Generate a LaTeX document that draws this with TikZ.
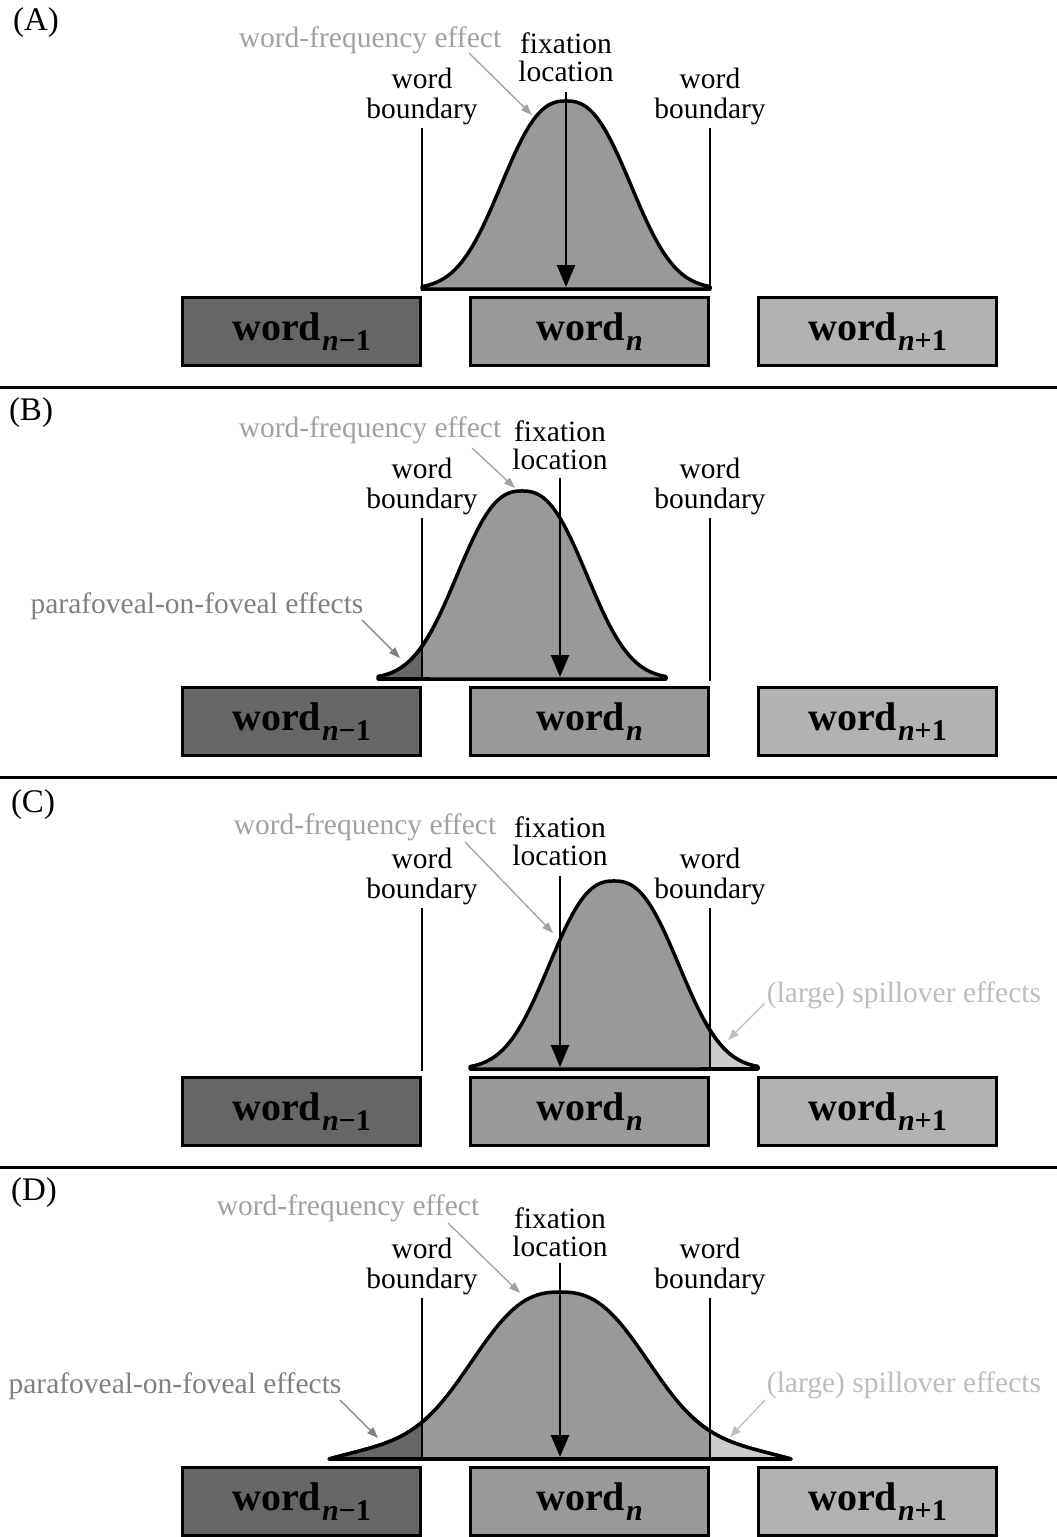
\documentclass[tikz,border=0pt]{standalone}
\usepackage{fontspec}
\setmainfont{Liberation Serif}
\usepackage{tikz}
\usetikzlibrary{arrows.meta}

\definecolor{prevgray}{gray}{0.4}
\definecolor{curgray}{gray}{0.6}
\definecolor{nextgray}{gray}{0.7}
\definecolor{spillfill}{gray}{0.8}
\definecolor{freqgray}{gray}{0.63}
\definecolor{paragray}{gray}{0.5}
\definecolor{spillgray}{gray}{0.74}

\newcommand{\wordsub}[1]{word\kern1pt\raisebox{-10pt}{\fontsize{30}{30}\selectfont\textit{n}#1}}

\begin{document}
\begin{tikzpicture}[
    x=1pt, y=-1pt,
    wordbox/.style={rectangle, draw=black, line width=3.5pt, minimum width=238pt, minimum height=68pt, inner sep=0pt, font=\fontsize{40}{40}\selectfont\bfseries},
    wprev/.style={wordbox, fill=prevgray},
    wcur/.style={wordbox, fill=curgray},
    wnext/.style={wordbox, fill=nextgray},
    lbl/.style={inner sep=0pt, align=center, font=\fontsize{29.5}{30}\selectfont},
    freq/.style={lbl, text=freqgray},
    para/.style={lbl, text=paragray},
    spill/.style={lbl, text=spillgray},
    tag/.style={inner sep=0pt, font=\fontsize{33}{33}\selectfont},
    bound/.style={line width=2.4pt, black},
    bell/.style={line width=3.5pt, black, line join=round, fill=curgray},
    fixarrow/.style={line width=2.4pt, -{Triangle[width=18pt,length=22pt]}},
    hint/.style={line width=1.3pt, -{Triangle[width=8pt,length=11pt]}},
    sep/.style={line width=3pt, black},
    declare function={
        bellA(\d)=exp(-((abs(\d)+0.01)/80)^2.5);
        bellD(\d)=0.8*exp(-((abs(\d)+0.01)/105)^2.6)+0.2*exp(-(\d/190)^2)*(1-(abs(\d)/231)^8);
    }
]
    \useasboundingbox (0,0) rectangle (1057,1537);

    % --- Panel (A): fixation in the middle of word n
    \node[tag] (tagA) at (36,23) {(A)};
    \draw[bell] (422,289) -- plot[domain=-144:144, samples=97] ({566+\x},{289-188*bellA(\x)}) -- (710,289) -- cycle;
    \draw[bound] (422,128) -- (422,291);
    \draw[bound] (710,128) -- (710,291);

    \node[freq] (freqA) at (370,40) {word-frequency effect};
    \node[lbl]  (fixA)  at (566,57) {fixation\\[-2pt]location};
    \node[lbl]  (lbA)   at (422,96) {word\\boundary};
    \node[lbl]  (rbA)   at (710,96) {word\\boundary};

    \coordinate (fixA-top) at (566,92);
    \coordinate (fixA-bot) at (566,287);
    \draw[fixarrow] (fixA-top) -- (fixA-bot);
    \coordinate (freqA-s) at (469,53);
    \coordinate (freqA-t) at (532,115);
    \draw[hint, freqgray] (freqA-s) -- (freqA-t);

    \node[wprev] (prevA) at (301.5,331.5) {\wordsub{−1}};
    \node[wcur]  (curA)  at (589.5,331.5) {\wordsub{}};
    \node[wnext] (nextA) at (877.5,331.5) {\wordsub{+1}};

    \draw[sep] (0,387) -- (1057,387);

    % --- Panel (B): curve shifted to the left
    \begin{scope}[yshift=-390pt]
    \node[tag] (tagB) at (31,23) {(B)};
    \draw[bell] (378,289) -- plot[domain=-144:144, samples=97] ({522+\x},{289-188*bellA(\x)}) -- (666,289) -- cycle;
    \begin{scope}
        \clip (300,0) rectangle (422,289);
        \fill[prevgray] (378,289) -- plot[domain=-144:144, samples=97] ({522+\x},{289-188*bellA(\x)}) -- (666,289) -- cycle;
    \end{scope}
    \draw[line width=3.5pt, line join=round] plot[domain=-144:-90, samples=30] ({522+\x},{289-188*bellA(\x)});
    \draw[line width=3.5pt] (378,289) -- (430,289);
    \draw[bound] (422,128) -- (422,291);
    \draw[bound] (710,128) -- (710,291);

    \node[freq] (freqB) at (370,40) {word-frequency effect};
    \node[lbl]  (fixB)  at (560,55) {fixation\\[-2pt]location};
    \node[lbl]  (lbB)   at (422,96) {word\\boundary};
    \node[lbl]  (rbB)   at (710,96) {word\\boundary};
    \node[para] (paraB) at (197,216) {parafoveal-on-foveal effects};

    \coordinate (fixB-top) at (560,88);
    \coordinate (fixB-bot) at (560,287);
    \draw[fixarrow] (fixB-top) -- (fixB-bot);
    \coordinate (freqB-s) at (472,58);
    \coordinate (freqB-t) at (515,98);
    \draw[hint, freqgray] (freqB-s) -- (freqB-t);
    \coordinate (paraB-s) at (362,230);
    \coordinate (paraB-t) at (400,268);
    \draw[hint, paragray] (paraB-s) -- (paraB-t);

    \node[wprev] (prevB) at (301.5,331.5) {\wordsub{−1}};
    \node[wcur]  (curB)  at (589.5,331.5) {\wordsub{}};
    \node[wnext] (nextB) at (877.5,331.5) {\wordsub{+1}};

    \draw[sep] (0,387) -- (1057,387);
    \end{scope}

    % --- Panel (C): curve shifted to the right
    \begin{scope}[yshift=-780pt]
    \node[tag] (tagC) at (33,25) {(C)};
    \draw[bell] (470,289) -- plot[domain=-144:144, samples=97] ({614+\x},{289-188*bellA(\x)}) -- (758,289) -- cycle;
    \begin{scope}
        \clip (710,0) rectangle (800,289);
        \fill[spillfill] (470,289) -- plot[domain=-144:144, samples=97] ({614+\x},{289-188*bellA(\x)}) -- (758,289) -- cycle;
    \end{scope}
    \draw[line width=3.5pt, line join=round] plot[domain=90:144, samples=30] ({614+\x},{289-188*bellA(\x)});
    \draw[line width=3.5pt] (700,289) -- (758,289);
    \draw[bound] (422,128) -- (422,291);
    \draw[bound] (710,128) -- (710,291);

    \node[freq]  (freqC)  at (365,47) {word-frequency effect};
    \node[lbl]   (fixC)   at (560,61) {fixation\\[-2pt]location};
    \node[lbl]   (lbC)    at (422,96) {word\\boundary};
    \node[lbl]   (rbC)    at (710,96) {word\\boundary};
    \node[spill] (spillC) at (904,215) {(large) spillover effects};

    \coordinate (fixC-top) at (560,96);
    \coordinate (fixC-bot) at (560,287);
    \draw[fixarrow] (fixC-top) -- (fixC-bot);
    \coordinate (freqC-s) at (465,62);
    \coordinate (freqC-t) at (553,153);
    \draw[hint, freqgray] (freqC-s) -- (freqC-t);
    \coordinate (spillC-s) at (765,223);
    \coordinate (spillC-t) at (728,260);
    \draw[hint, spillgray] (spillC-s) -- (spillC-t);

    \node[wprev] (prevC) at (301.5,331.5) {\wordsub{−1}};
    \node[wcur]  (curC)  at (589.5,331.5) {\wordsub{}};
    \node[wnext] (nextC) at (877.5,331.5) {\wordsub{+1}};

    \draw[sep] (0,387) -- (1057,387);
    \end{scope}

    % --- Panel (D): wide curve over all three words
    \begin{scope}[yshift=-1170pt]
    \node[tag] (tagD) at (34,23) {(D)};
    \draw[bell] (329,289) -- plot[domain=-231:231, samples=121] ({560+\x},{289-167*bellD(\x)}) -- (791,289) -- cycle;
    \begin{scope}
        \clip (300,0) rectangle (422,289);
        \fill[prevgray] (329,289) -- plot[domain=-231:231, samples=121] ({560+\x},{289-167*bellD(\x)}) -- (791,289) -- cycle;
    \end{scope}
    \begin{scope}
        \clip (710,0) rectangle (820,289);
        \fill[spillfill] (329,289) -- plot[domain=-231:231, samples=121] ({560+\x},{289-167*bellD(\x)}) -- (791,289) -- cycle;
    \end{scope}
    \draw[line width=3.5pt, line join=round] plot[domain=-231:-130, samples=40] ({560+\x},{289-167*bellD(\x)});
    \draw[line width=3.5pt, line join=round] plot[domain=130:231, samples=40] ({560+\x},{289-167*bellD(\x)});
    \draw[line width=3.5pt] (329,289) -- (791,289);
    \draw[bound] (422,128) -- (422,291);
    \draw[bound] (710,128) -- (710,291);

    \node[freq]  (freqD)  at (348,38) {word-frequency effect};
    \node[lbl]   (fixD)   at (560,62) {fixation\\[-2pt]location};
    \node[lbl]   (lbD)    at (422,96) {word\\boundary};
    \node[lbl]   (rbD)    at (710,96) {word\\boundary};
    \node[para]  (paraD)  at (175,216) {parafoveal-on-foveal effects};
    \node[spill] (spillD) at (904,215) {(large) spillover effects};

    \coordinate (fixD-top) at (560,93);
    \coordinate (fixD-bot) at (560,287);
    \draw[fixarrow] (fixD-top) -- (fixD-bot);
    \coordinate (freqD-s) at (448,53);
    \coordinate (freqD-t) at (520,123);
    \draw[hint, freqgray] (freqD-s) -- (freqD-t);
    \coordinate (paraD-s) at (340,230);
    \coordinate (paraD-t) at (378,268);
    \draw[hint, paragray] (paraD-s) -- (paraD-t);
    \coordinate (spillD-s) at (765,230);
    \coordinate (spillD-t) at (730,267);
    \draw[hint, spillgray] (spillD-s) -- (spillD-t);

    \node[wprev] (prevD) at (301.5,331.5) {\wordsub{−1}};
    \node[wcur]  (curD)  at (589.5,331.5) {\wordsub{}};
    \node[wnext] (nextD) at (877.5,331.5) {\wordsub{+1}};
    \end{scope}

\end{tikzpicture}
\end{document}
